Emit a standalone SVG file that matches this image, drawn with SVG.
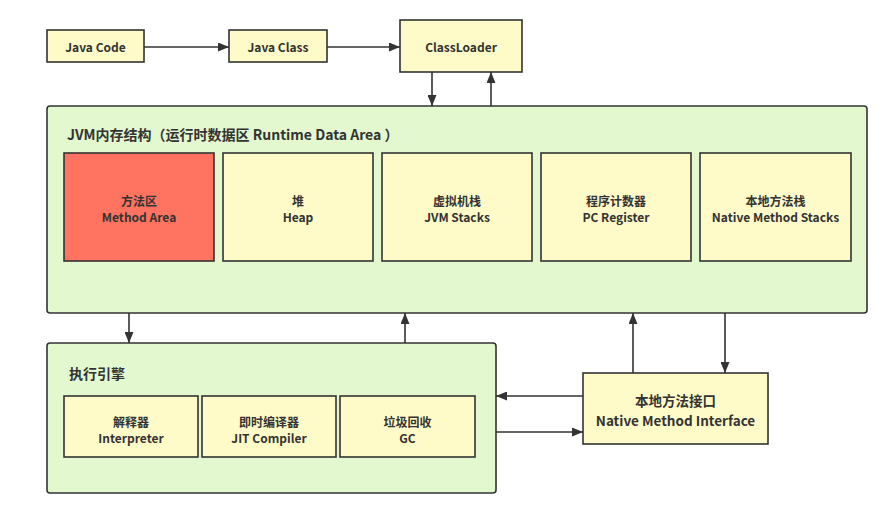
<svg xmlns="http://www.w3.org/2000/svg" width="894" height="513" viewBox="0 0 894 513">
<defs>
<marker id="ah" viewBox="0 0 11 9" refX="11" refY="4.5" markerWidth="11" markerHeight="9" markerUnits="userSpaceOnUse" orient="auto">
<path d="M0,0 L11,4.5 L0,9 Z" fill="#333"/>
</marker>
<style>
.box{fill:#FFFBC8;stroke:#333;stroke-width:1.6}
.red{fill:#FF7360;stroke:#333;stroke-width:1.6}
.grp{fill:#E3F8CF;stroke:#333;stroke-width:1.6}
.t{font-family:"Noto Sans CJK SC","Noto Sans",sans-serif;font-weight:bold;font-size:12px;fill:#333;text-anchor:middle;dominant-baseline:central}
.tl{font-family:"Noto Sans CJK SC","Noto Sans",sans-serif;font-weight:bold;font-size:14px;fill:#333;dominant-baseline:central}
.big{font-size:13.5px}
.c{fill:none;stroke:#333;stroke-width:1.6;marker-end:url(#ah)}
</style>
</defs>
<rect width="894" height="513" fill="#fff"/>
<g id="javacode"><rect class="box" x="47" y="30" width="97" height="32"/><text class="t" x="95.5" y="46">Java Code</text></g>
<g id="javaclass"><rect class="box" x="229" y="30" width="98" height="32"/><text class="t" x="278" y="46">Java Class</text></g>
<g id="classloader"><rect class="box" x="400" y="20" width="122" height="52"/><text class="t" x="461" y="46">ClassLoader</text></g>
<g id="runtime">
<rect class="grp" x="47" y="106" width="820" height="207" rx="3"/>
<text class="tl" x="67" y="134">JVM内存结构（运行时数据区 Runtime Data Area ）</text>
</g>
<g id="methodarea"><rect class="red" x="64" y="153" width="150" height="108"/><text class="t" x="139" y="200">方法区</text><text class="t" x="139" y="216">Method Area</text></g>
<g id="heap"><rect class="box" x="223" y="153" width="150" height="108"/><text class="t" x="298" y="200">堆</text><text class="t" x="298" y="216">Heap</text></g>
<g id="jvmstacks"><rect class="box" x="382" y="153" width="150" height="108"/><text class="t" x="457" y="200">虚拟机栈</text><text class="t" x="457" y="216">JVM Stacks</text></g>
<g id="pcregister"><rect class="box" x="541" y="153" width="150" height="108"/><text class="t" x="616" y="200">程序计数器</text><text class="t" x="616" y="216">PC Register</text></g>
<g id="nativestacks"><rect class="box" x="700" y="153" width="151" height="108"/><text class="t" x="775.5" y="200">本地方法栈</text><text class="t" x="775.5" y="216">Native Method Stacks</text></g>
<g id="engine">
<rect class="grp" x="47" y="343" width="449" height="150" rx="3"/>
<text class="tl" x="69" y="373">执行引擎</text>
</g>
<g id="interpreter"><rect class="box" x="64" y="396" width="134" height="61"/><text class="t" x="131" y="421">解释器</text><text class="t" x="131" y="437">Interpreter</text></g>
<g id="jit"><rect class="box" x="202" y="396" width="134" height="61"/><text class="t" x="269" y="421">即时编译器</text><text class="t" x="269" y="437">JIT Compiler</text></g>
<g id="gc"><rect class="box" x="340" y="396" width="135" height="61"/><text class="t" x="407.5" y="421">垃圾回收</text><text class="t" x="407.5" y="437">GC</text></g>
<g id="nmi"><rect class="box" x="583" y="373" width="185" height="71"/><text class="t big" x="675.5" y="400">本地方法接口</text><text class="t big" x="675.5" y="420">Native Method Interface</text></g>
<g id="connectors">
<line class="c" x1="144" y1="47" x2="229" y2="47"/>
<line class="c" x1="327" y1="47" x2="400" y2="47"/>
<line class="c" x1="432" y1="72" x2="432" y2="106"/>
<line class="c" x1="491" y1="106" x2="491" y2="72"/>
<line class="c" x1="129" y1="313" x2="129" y2="343"/>
<line class="c" x1="405" y1="343" x2="405" y2="313"/>
<line class="c" x1="633" y1="373" x2="633" y2="313"/>
<line class="c" x1="725" y1="313" x2="725" y2="373"/>
<line class="c" x1="583" y1="396" x2="496" y2="396"/>
<line class="c" x1="496" y1="432" x2="583" y2="432"/>
</g>
</svg>
